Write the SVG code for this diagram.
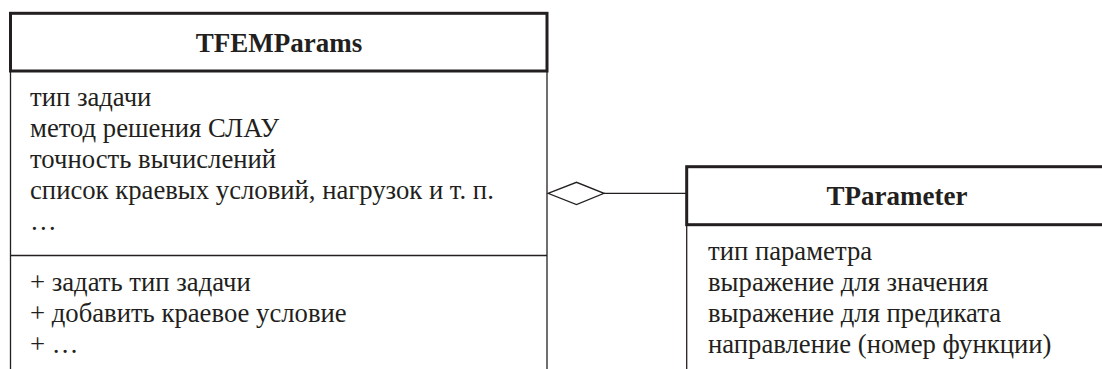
<svg xmlns="http://www.w3.org/2000/svg" width="1102" height="369" viewBox="0 0 1102 369">
  <style>
    .hdr { fill: #ffffff; stroke: #231f20; stroke-width: 3; }
    .thin { fill: none; stroke: #231f20; stroke-width: 1.3; }
    text { font-family: 'Liberation Serif', 'Times New Roman', serif; fill: #231f20; }
    .title { font-weight: bold; font-size: 27px; text-anchor: middle; }
    .txt { font-size: 26.7px; }
  </style>
  <rect width="1102" height="369" fill="#ffffff"/>

  <!-- aggregation: TFEMParams holds TParameter -->
  <g id="connectors">
    <polygon class="thin" points="548,193.3 576.5,182.3 604,193.3 576.5,204.5" fill="#ffffff"/>
    <line class="thin" x1="604" y1="193.3" x2="686" y2="193.3"/>
  </g>

  <g id="TFEMParams">
    <polyline class="thin" points="10.5,71 10.5,369"/>
    <polyline class="thin" points="547,71 547,369"/>
    <line class="thin" x1="10.5" y1="255.5" x2="547" y2="255.5"/>
    <rect class="hdr" x="10.5" y="13.3" width="536.5" height="57.7"/>
    <text class="title" x="279" y="51.5">TFEMParams</text>
    <text class="txt" x="30" y="106">тип задачи</text>
    <text class="txt" x="30" y="137">метод решения СЛАУ</text>
    <text class="txt" x="30" y="168">точность вычислений</text>
    <text class="txt" x="30" y="199">список краевых условий, нагрузок и т. п.</text>
    <text class="txt" x="30" y="230">…</text>
    <text class="txt" x="30" y="291">+ задать тип задачи</text>
    <text class="txt" x="30" y="322">+ добавить краевое условие</text>
    <text class="txt" x="30" y="353">+ …</text>
  </g>

  <g id="TParameter">
    <polyline class="thin" points="686.7,224.7 686.7,369"/>
    <rect class="hdr" x="686.7" y="166.7" width="420" height="58"/>
    <text class="title" x="897" y="204.5">TParameter</text>
    <text class="txt" x="708" y="260">тип параметра</text>
    <text class="txt" x="708" y="291">выражение для значения</text>
    <text class="txt" x="708" y="322">выражение для предиката</text>
    <text class="txt" x="708" y="353">направление (номер функции)</text>
  </g>
</svg>
